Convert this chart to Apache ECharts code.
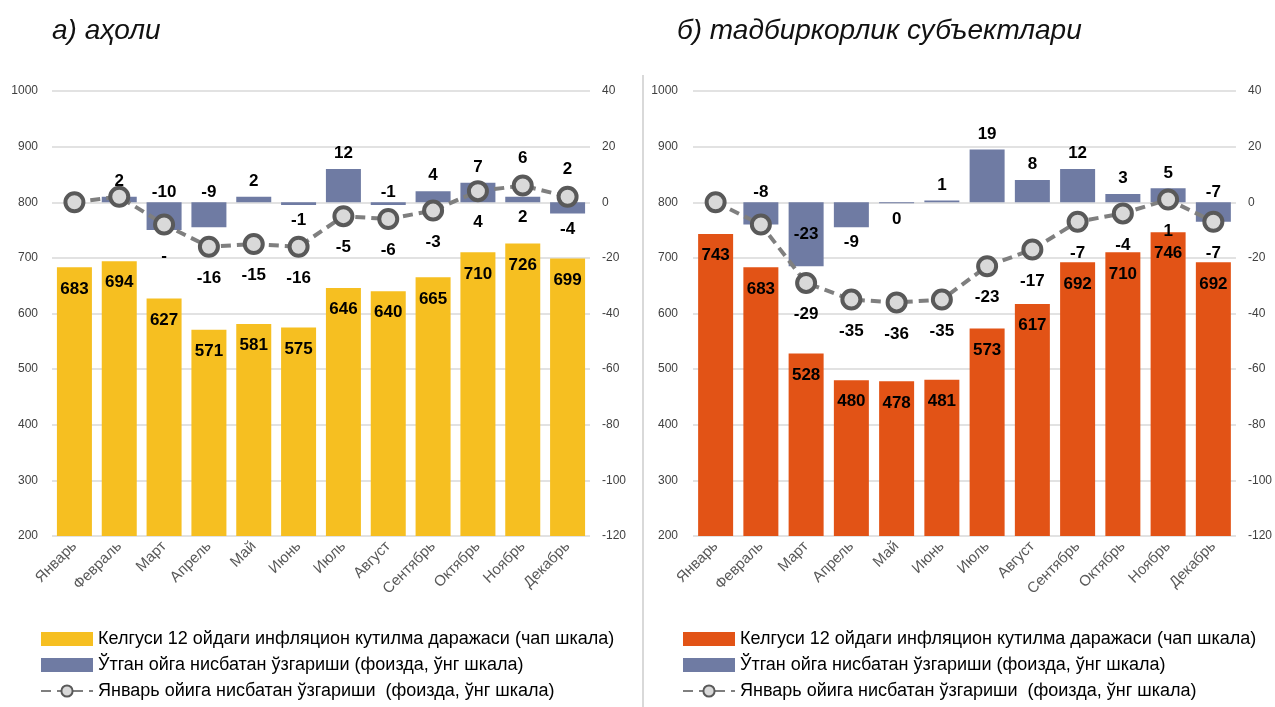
<!DOCTYPE html>
<html>
<head>
<meta charset="utf-8">
<script src="https://cdn.jsdelivr.net/npm/echarts@6/dist/echarts.min.js"></script>
<style>
  html, body { margin: 0; padding: 0; background: #fff; }
  #chart { width: 1275px; height: 707px; }
</style>
</head>
<body>
<div id="chart"></div>
<script>
// ой номлари
const months = ['Январь', 'Февраль', 'Март', 'Апрель', 'Май', 'Июнь', 'Июль', 'Август', 'Сентябрь', 'Октябрь', 'Ноябрь', 'Декабрь'];

// а) аҳоли
const popLevel = [683, 694, 627, 571, 581, 575, 646, 640, 665, 710, 726, 699];
const popMoM = [null, 2, -10, -9, 2, -1, 12, -1, 4, 7, 2, -4];
const popVsJan = [0, 2, -8, -16, -15, -16, -5, -6, -3, 4, 6, 2];

// б) тадбиркорлик субъектлари
const bizLevel = [743, 683, 528, 480, 478, 481, 573, 617, 692, 710, 746, 692];
const bizMoM = [null, -8, -23, -9, -0.4, 0.6, 19, 8, 12, 3, 5, -7];
const bizVsJan = [0, -8, -29, -35, -36, -35, -23, -17, -7, -4, 1, -7];

// шкала белгилари
const leftTicks = { min: 200, max: 1000, interval: 100 };
const rightTicks = { min: -120, max: 40, interval: 20 };

const legendNames = [
    'Келгуси 12 ойдаги инфляцион кутилма даражаси (чап шкала)',
    'Ўтган ойга нисбатан ўзгариши (фоизда, ўнг шкала)',
    'Январь ойига нисбатан ўзгариши  (фоизда, ўнг шкала)'
];

// маълумот ёрлиқлари жойлашуви
const popBarPlace = ['none', 'top', 'top', 'top', 'top', 'bottom', 'top', 'top', 'top', 'top', 'bottom', 'bottom'];
const popLinePlace = ['none', 'none', 'bottom', 'bottom', 'bottom', 'bottom', 'bottom', 'bottom', 'bottom', 'bottom', 'top', 'top'];
const popLineText = [null, null, '-', null, null, null, null, null, null, null, null, null];
const bizBarPlace = ['none', 'top', 'inside', 'bottom', 'bottom', 'top', 'top', 'top', 'top', 'top', 'top', 'top'];
const bizLinePlace = ['none', 'none', 'bottom', 'bottom', 'bottom', 'bottom', 'bottom', 'bottom', 'bottom', 'bottom', 'bottom', 'bottom'];

const FONT = '"Liberation Sans", Arial, sans-serif';
const YELLOW = '#F6BF21';
const ORANGE = '#E25316';
const BLUE = '#6F7BA3';

const labelFont = { fontFamily: FONT, fontWeight: 'bold', fontSize: 17, color: '#000' };

function barItems(values, places) {
    return values.map((v, i) => {
        const p = places[i];
        if (p === 'none' || v === null) return { value: v, label: { show: false } };
        let distance = 7;
        if (p === 'top' && v < 0) distance = 1;
        return { value: v, label: { show: true, position: p, distance: distance } };
    });
}

function lineItems(values, places, texts) {
    return values.map((v, i) => {
        const p = places[i];
        if (p === 'none') return { value: v, label: { show: false } };
        const item = { value: v, label: { show: true, position: p, distance: p === 'top' ? 8 : 12 } };
        if (texts && texts[i] !== null) item.label.formatter = texts[i];
        return item;
    });
}

function panelSeries(idx, level, mom, vsJan, barPlace, linePlace, lineText, levelColor, suffix) {
    return [
        {
            name: legendNames[0] + suffix,
            type: 'bar',
            xAxisIndex: idx,
            yAxisIndex: idx * 2,
            data: level,
            barWidth: 35,
            barGap: '-100%',
            clip: true,
            itemStyle: { color: levelColor },
            label: Object.assign({ show: true, position: 'insideTop', distance: 13 }, labelFont),
            z: 2
        },
        {
            name: legendNames[1] + suffix,
            type: 'bar',
            xAxisIndex: idx,
            yAxisIndex: idx * 2 + 1,
            data: barItems(mom, barPlace),
            barWidth: 35,
            barGap: '-100%',
            itemStyle: { color: BLUE },
            label: Object.assign({ formatter: (p) => String(Math.round(p.value)) }, labelFont),
            z: 3
        },
        {
            name: legendNames[2] + suffix,
            type: 'line',
            xAxisIndex: idx,
            yAxisIndex: idx * 2 + 1,
            data: lineItems(vsJan, linePlace, lineText),
            symbol: 'circle',
            symbolSize: 18,
            lineStyle: { color: '#7F7F7F', width: 4, type: [10, 6] },
            itemStyle: { color: '#D9D9D9', borderColor: '#595959', borderWidth: 4 },
            label: labelFont,
            z: 5
        }
    ];
}

function xAxis(idx) {
    return {
        type: 'category',
        gridIndex: idx,
        data: months,
        axisTick: { show: false },
        axisLine: { show: false },
        axisLabel: { rotate: 45, margin: 8, fontFamily: FONT, fontSize: 15, color: '#595959', interval: 0 }
    };
}

function yAxes(idx, leftMargin) {
    return [
        {
            type: 'value',
            gridIndex: idx,
            position: 'left',
            min: leftTicks.min,
            max: leftTicks.max,
            interval: leftTicks.interval,
            axisLine: { show: false },
            axisTick: { show: false },
            axisLabel: { fontFamily: FONT, fontSize: 12, color: '#404040', margin: leftMargin, formatter: (v) => String(v) },
            splitLine: { lineStyle: { color: '#D9D9D9', width: 1.5 } }
        },
        {
            type: 'value',
            gridIndex: idx,
            position: 'right',
            min: rightTicks.min,
            max: rightTicks.max,
            interval: rightTicks.interval,
            axisLine: { show: false },
            axisTick: { show: false },
            axisLabel: { fontFamily: FONT, fontSize: 12, color: '#404040', margin: 12, formatter: (v) => String(v) },
            splitLine: { show: false }
        }
    ];
}

function legend(left, suffix) {
    return {
        orient: 'vertical',
        left: left,
        top: 630,
        height: 90,
        padding: 0,
        itemWidth: 52,
        itemHeight: 14,
        itemGap: 8,
        selectedMode: false,
        textStyle: { fontFamily: FONT, fontSize: 18, color: '#000' },
        data: [
            { name: legendNames[0] + suffix, icon: 'rect' },
            { name: legendNames[1] + suffix, icon: 'rect' },
            { name: legendNames[2] + suffix }
        ]
    };
}

const chart = echarts.init(document.getElementById('chart'));

const option = {
    animation: false,
    backgroundColor: '#fff',
    title: [
        { text: 'а) аҳоли', left: 47, top: 12, textStyle: { fontFamily: FONT, fontStyle: 'italic', fontWeight: 'normal', fontSize: 28, color: '#111' } },
        { text: 'б) тадбиркорлик субъектлари', left: 672, top: 12, textStyle: { fontFamily: FONT, fontStyle: 'italic', fontWeight: 'normal', fontSize: 28, color: '#111' } }
    ],
    graphic: [
        { type: 'line', shape: { x1: 643, y1: 75, x2: 643, y2: 707 }, style: { stroke: '#D9D9D9', lineWidth: 2 } }
    ],
    grid: [
        { left: 52, right: 685, top: 91, bottom: 171 },
        { left: 693, right: 39, top: 91, bottom: 171 }
    ],
    legend: [legend(40, ''), legend(682, ' ')],
    xAxis: [xAxis(0), xAxis(1)],
    yAxis: yAxes(0, 14).concat(yAxes(1, 15)),
    series: panelSeries(0, popLevel, popMoM, popVsJan, popBarPlace, popLinePlace, popLineText, YELLOW, '')
        .concat(panelSeries(1, bizLevel, bizMoM, bizVsJan, bizBarPlace, bizLinePlace, null, ORANGE, ' '))
};

chart.setOption(option);
</script>
</body>
</html>
